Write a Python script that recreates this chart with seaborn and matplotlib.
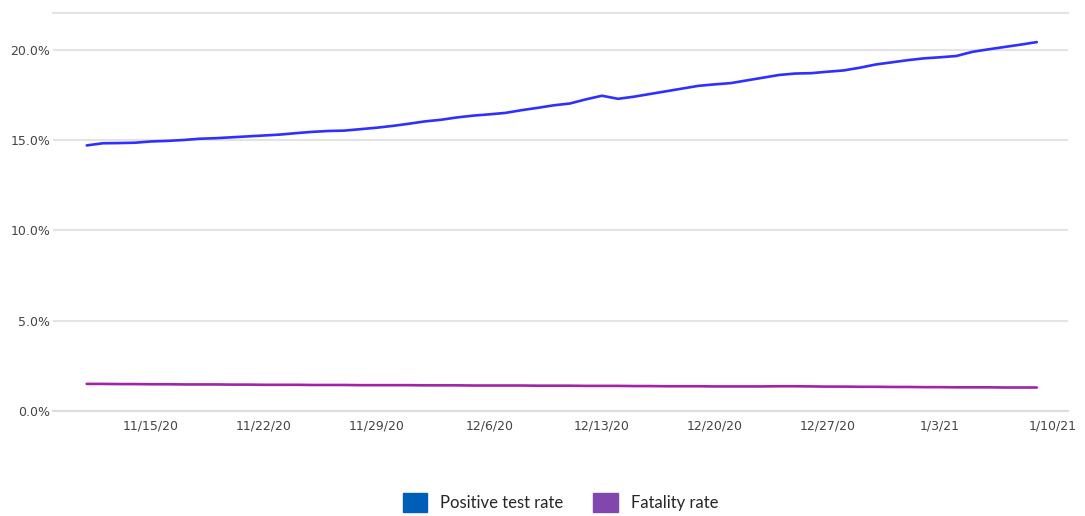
import pandas as pd
import numpy as np
import matplotlib
matplotlib.use("Agg")
import matplotlib.pyplot as plt
import matplotlib.dates as mdates
from matplotlib.patches import Patch
import seaborn as sns

# Daily values, 11/11/20 - 1/9/21
start_date = "2020-11-11"
positive_rate = [14.70, 14.82, 14.83, 14.85, 14.92, 14.95, 15.00, 15.07, 15.10, 15.15,
                 15.20, 15.25, 15.30, 15.38, 15.45, 15.50, 15.52, 15.60, 15.68, 15.78,
                 15.90, 16.03, 16.12, 16.25, 16.35, 16.42, 16.50, 16.65, 16.78, 16.92,
                 17.02, 17.25, 17.45, 17.28, 17.40, 17.55, 17.70, 17.85, 18.00, 18.08,
                 18.15, 18.30, 18.45, 18.60, 18.68, 18.70, 18.78, 18.85, 19.00, 19.18,
                 19.30, 19.42, 19.52, 19.58, 19.65, 19.88, 20.02, 20.15, 20.28, 20.42]
fatality_rate = [1.50, 1.50, 1.49, 1.49, 1.48, 1.48, 1.47, 1.47, 1.47, 1.46,
                 1.46, 1.45, 1.45, 1.45, 1.44, 1.44, 1.44, 1.43, 1.43, 1.43,
                 1.43, 1.42, 1.42, 1.42, 1.41, 1.41, 1.41, 1.41, 1.40, 1.40,
                 1.40, 1.39, 1.39, 1.39, 1.38, 1.38, 1.37, 1.37, 1.37, 1.36,
                 1.36, 1.36, 1.36, 1.37, 1.37, 1.36, 1.35, 1.35, 1.34, 1.34,
                 1.33, 1.33, 1.32, 1.32, 1.31, 1.31, 1.31, 1.30, 1.30, 1.30]
series_names = ["Positive test rate", "Fatality rate"]
line_colors = ["#2f2fff", "#a023a8"]
legend_colors = ["#005eb8", "#8246af"]
tick_dates = ["2020-11-15", "2020-11-22", "2020-11-29", "2020-12-06", "2020-12-13",
              "2020-12-20", "2020-12-27", "2021-01-03", "2021-01-10"]
tick_labels = ["11/15/20", "11/22/20", "11/29/20", "12/6/20", "12/13/20",
               "12/20/20", "12/27/20", "1/3/21", "1/10/21"]

dates = pd.date_range(start_date, periods=len(positive_rate), freq="D")
df = pd.DataFrame({"date": dates, series_names[0]: positive_rate,
                   series_names[1]: fatality_rate})

sns.set_theme(style="white")
plt.rcParams["font.family"] = ["DejaVu Sans"]

fig = plt.figure(figsize=(10.85, 5.16), dpi=100)
ax = fig.add_axes([0.049, 0.2035, 0.935, 0.772])

for name, color in zip(series_names, line_colors):
    sns.lineplot(data=df, x="date", y=name, color=color, linewidth=1.9, ax=ax)

ax.set_ylim(0, 22.05)
ax.set_xlim(pd.Timestamp("2020-11-08 22:00"), pd.Timestamp("2021-01-10 22:00"))
ax.set_yticks([0, 5, 10, 15, 20])
ax.set_yticklabels([f"{v:.1f}%" for v in [0, 5, 10, 15, 20]])
ax.set_xticks(pd.to_datetime(tick_dates))
ax.set_xticklabels(tick_labels)
ax.set_xlabel("")
ax.set_ylabel("")
ax.grid(axis="y", color="#e3e3e3", linewidth=1.5)
ax.grid(axis="x", visible=False)
for s in ["left", "right"]:
    ax.spines[s].set_visible(False)
ax.spines["top"].set_color("#e3e3e3")
ax.spines["top"].set_linewidth(1.5)
ax.spines["bottom"].set_color("#dddddd")
ax.spines["bottom"].set_linewidth(1.5)
ax.tick_params(axis="y", length=0, pad=2, labelsize=9, labelcolor="#444444")
ax.tick_params(axis="x", length=0, pad=6, labelsize=9, labelcolor="#444444")

handles = [Patch(facecolor=c, edgecolor=c) for c in legend_colors]
fig.legend(handles, series_names, loc="center", bbox_to_anchor=(0.5166, 0.026),
           ncol=2, frameon=False, handlelength=1.45, handleheight=1.45,
           handletextpad=0.8, columnspacing=1.8,
           prop={"family": "Lato", "size": 12})

fig.savefig("out.png", dpi=100)
